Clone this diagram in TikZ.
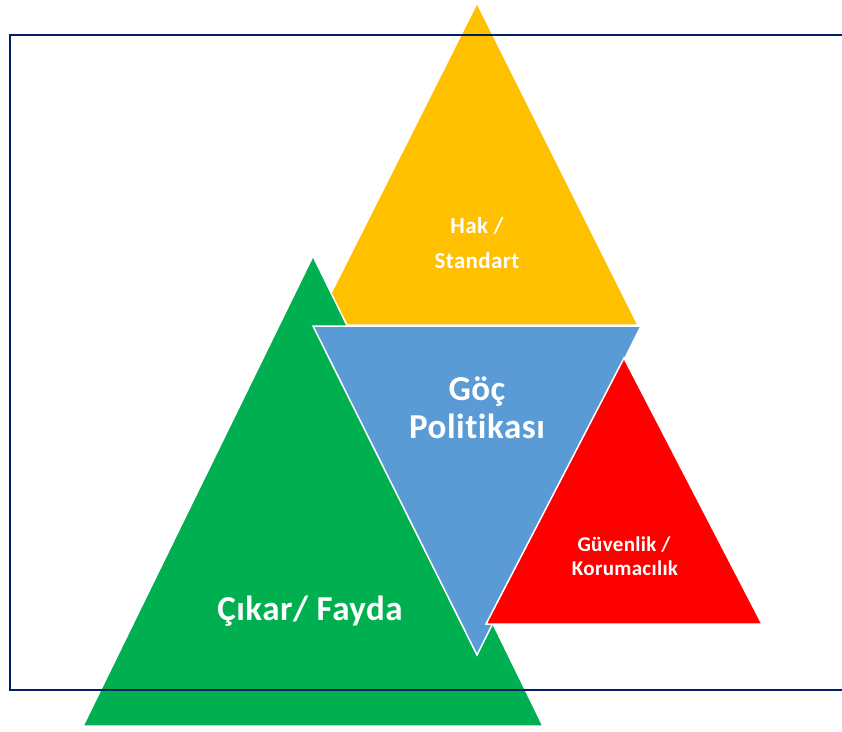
\documentclass[tikz,border=0pt]{standalone}
\usepackage{fontspec}
\setmainfont{Carlito}[Ligatures=NoCommon,LetterSpace=1.5]
\definecolor{gelb}{HTML}{FFC000}
\definecolor{gruen}{HTML}{00B050}
\definecolor{blau}{HTML}{5B9BD5}
\definecolor{rot}{HTML}{FF0000}
\definecolor{marine}{HTML}{002060}
\begin{document}
\begin{tikzpicture}[x=1pt,y=-1pt,
  dreieck/.style={draw=white,line width=1.5pt,line join=miter},
  schrift/.style={text=white,font=\bfseries,anchor=base,inner sep=0pt}]
  \useasboundingbox (0,0) rectangle (842,731);
  % Dreieck oben (gelb)
  \coordinate (Y1) at (477,3);
  \coordinate (Y2) at (638,325);
  \coordinate (Y3) at (315,325);
  % Dreieck links (gruen)
  \coordinate (G1) at (313,256);
  \coordinate (G2) at (543,726);
  \coordinate (G3) at (83,726);
  % Dreieck Mitte (blau, umgedreht)
  \coordinate (B1) at (313,326);
  \coordinate (B2) at (641,326);
  \coordinate (B3) at (477,655);
  % Dreieck rechts (rot)
  \coordinate (R1) at (624,358);
  \coordinate (R2) at (762,624);
  \coordinate (R3) at (486,624);
  % Flaechen
  \filldraw[dreieck,fill=gelb] (Y1) -- (Y2) -- (Y3) -- cycle;
  \filldraw[dreieck,fill=gruen] (G1) -- (G2) -- (G3) -- cycle;
  \filldraw[dreieck,fill=blau] (B1) -- (B2) -- (B3) -- cycle;
  \filldraw[dreieck,fill=rot] (R1) -- (R2) -- (R3) -- cycle;
  % Rahmen
  \draw[marine,line width=2.8pt] (842,35) -- (10,35) -- (10,690) -- (842,690);
  % Beschriftungen
  \node[schrift,font=\bfseries\fontsize{23}{27}\selectfont] (hak) at (477,233) {Hak /};
  \node[schrift,font=\bfseries\fontsize{23}{27}\selectfont] (standart) at (477,268) {Standart};
  \node[schrift,font=\bfseries\fontsize{35}{41}\selectfont] (goc) at (477,400) {Göç};
  \node[schrift,font=\bfseries\fontsize{35}{41}\selectfont] (politika) at (477,438) {Politikası};
  \node[schrift,font=\bfseries\fontsize{21}{25}\selectfont] (guvenlik) at (624,551) {Güvenlik /};
  \node[schrift,font=\bfseries\fontsize{21}{25}\selectfont] (koruma) at (625,575) {Korumacılık};
  \node[schrift,font=\bfseries\fontsize{35}{41}\selectfont] (cikar) at (310,620) {Çıkar/ Fayda};
\end{tikzpicture}
\end{document}
